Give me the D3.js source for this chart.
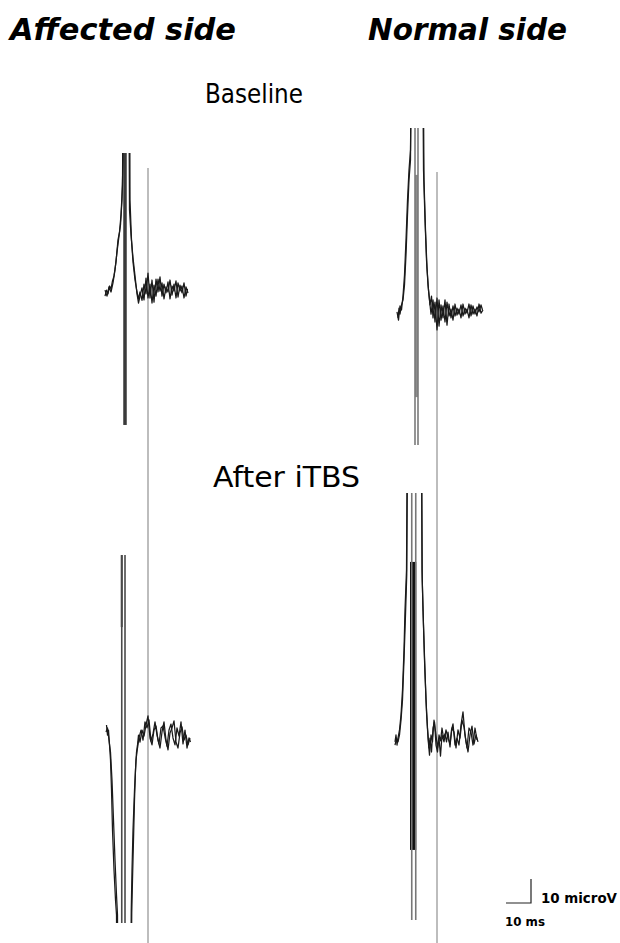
<!DOCTYPE html>
<html><head><meta charset="utf-8">
<script src="https://cdn.jsdelivr.net/npm/d3@7/dist/d3.min.js"></script>
<style>html,body{margin:0;padding:0;background:#fff}svg{display:block}</style>
</head><body>
<script>
// ---------- DATA (time in ms relative to stimulus, amplitude in microV) ----------
const columns = ["Affected side", "Normal side"];
const rows = ["Baseline", "After iTBS"];

// Affected side, Baseline: two superimposed sweeps [t, v]
const affBase1 = [[-8.0,-1.7],[-7.4,0.8],[-6.8,-0.8],[-6.2,2.5],[-5.6,1.3],[-5.0,4.6],[-4.4,6.7],[-3.6,12.5],[-2.8,21.7],[-2.2,25.0],[-1.6,32.1],[-1.0,44.6],[-0.6,120],[1.8,120],[2.0,38.3],[2.6,21.7],[3.2,12.5],[4.0,5.0],[4.8,0],[5.4,-2.9],
 [6.0,0],[6.8,-3.5],[7.6,3.3],[8.4,-0.8],[9.2,7.9],[10.0,-2.5],[10.8,5.0],[11.6,-4.2],[12.4,5.4],[13.2,0],[14.0,6.3],[14.8,-1.7],[15.6,3.3],[16.4,-0.4],[17.2,4.2],[18.0,-2.9],[18.8,2.5],[19.6,0.4],[20.4,4.6],[21.2,-2.1],[22.0,2.9],[22.8,-0.4],[23.6,3.8],[24.4,-1.7],[25.0,1.3]];
const affBase2 = [[-8.0,0.8],[-7.2,-1.7],[-6.4,2.1],[-5.6,0],[-4.8,3.8],[-4.0,9.2],[-3.2,16.7],[-2.4,23.3],[-1.8,27.9],[-1.2,38.3],[-0.8,55.0],[-0.5,120],[1.4,120],[1.8,34.2],[2.4,23.8],[3.2,14.2],[4.0,6.7],[4.8,-0.8],[5.4,-4.6],
 [6.0,-1.7],[6.8,1.7],[7.6,-3.3],[8.4,5.8],[9.2,-2.5],[10.0,3.3],[10.8,-4.6],[11.6,2.9],[12.4,-1.7],[13.2,5.4],[14.0,0.4],[14.8,3.8],[15.6,-2.9],[16.4,2.1],[17.2,0],[18.0,5.0],[18.8,-1.3],[19.6,3.3],[20.4,-2.5],[21.2,3.8],[22.0,0.4],[22.8,2.5],[23.6,-2.5],[24.4,2.1],[25.2,-0.4]];

// Normal side, Baseline
const normBase1 = [[-6.8,-3.3],[-6.4,0.8],[-6.0,-1.7],[-5.4,2.1],[-4.8,4.2],[-4.2,10.4],[-3.6,22.9],[-3.0,39.6],[-2.4,54.2],[-1.8,62.5],[-1.4,120],[3.0,120],[3.4,58.3],[4.0,37.5],[4.6,20.8],[5.2,10.4],[5.8,4.2],[6.4,-1.7],
 [7.2,4.2],[8.0,-5.0],[8.8,5.0],[9.6,-6.7],[10.4,2.1],[11.2,-3.3],[12.0,4.2],[12.8,-6.3],[13.6,2.5],[14.4,-3.3],[15.2,1.7],[16.0,-2.5],[16.8,0.8],[17.6,-1.7],[18.4,2.1],[19.2,-2.5],[20.0,0.8],[20.8,-1.3],[21.6,2.5],[22.4,-2.5],[23.2,1.7],[24.0,-1.7],[24.8,1.3],[25.6,-0.8],[26.4,2.1],[27.0,0]];
const normBase2 = [[-7.2,-0.8],[-6.6,-4.2],[-6.0,1.7],[-5.4,0],[-4.8,5.8],[-4.2,14.6],[-3.6,29.2],[-3.0,45.8],[-2.4,58.3],[-1.8,66.7],[-1.3,120],[3.2,120],[3.6,54.2],[4.2,33.3],[4.8,17.5],[5.4,8.3],[6.0,2.1],[6.6,5.8],
 [7.2,-3.3],[8.0,3.3],[8.8,-8.3],[9.6,4.2],[10.4,-4.2],[11.2,1.7],[12.0,-5.0],[12.8,3.3],[13.6,-2.5],[14.4,0.4],[15.2,-4.2],[16.0,2.5],[16.8,-2.1],[17.6,0.4],[18.4,-3.3],[19.2,2.5],[20.0,-1.7],[20.8,0.4],[21.6,-3.3],[22.4,2.1],[23.2,-1.7],[24.0,0.4],[24.8,-2.5],[25.6,2.5],[26.4,-1.3],[27.2,0]];

// Affected side, After iTBS
const affAfter1 = [[-7.4,5.0],[-7.0,0.8],[-6.6,2.9],[-6.2,-3.3],[-5.8,-9.6],[-5.4,-22.1],[-5.0,-38.8],[-4.4,-55.4],[-3.8,-67.9],[-3.4,-74.2],[-3.2,-120],[2.4,-120],[2.7,-73.3],[3.0,-59.6],[3.4,-42.9],[3.8,-26.3],[4.2,-13.8],[4.6,-6.3],[5.0,-3.3],[5.4,0.8],
 [6.0,-2.1],[6.8,2.9],[7.6,0.4],[8.4,5.0],[9.2,8.8],[10.0,-0.4],[10.8,-3.3],[11.6,2.9],[12.4,4.6],[13.2,-1.3],[14.0,-4.6],[14.8,2.1],[15.6,6.3],[16.4,-1.3],[17.2,-5.4],[18.0,1.7],[18.8,3.8],[19.6,6.7],[20.4,-2.1],[21.2,-4.6],[22.0,1.7],[22.8,4.2],[23.6,-1.3],[24.4,0.8],[25.2,-3.3],[26.0,-0.4]];
const affAfter2 = [[-7.6,2.1],[-7.0,3.8],[-6.4,-1.3],[-5.8,-6.3],[-5.2,-17.9],[-4.6,-34.6],[-4.0,-51.3],[-3.4,-65.8],[-3.0,-74.2],[-2.8,-120],[2.2,-120],[2.5,-72.1],[2.8,-55.4],[3.2,-38.8],[3.8,-22.1],[4.4,-9.6],[5.0,-4.6],[5.6,-0.4],
 [6.4,2.9],[7.2,-1.3],[8.0,6.3],[8.8,3.8],[9.6,7.1],[10.4,-1.7],[11.2,1.3],[12.0,6.3],[12.8,0.8],[13.6,-2.9],[14.4,3.8],[15.2,4.6],[16.0,0],[16.8,-3.8],[17.6,2.9],[18.4,5.4],[19.2,-0.4],[20.0,-3.3],[20.8,3.8],[21.6,0.4],[22.4,6.3],[23.2,-2.9],[24.0,2.9],[24.8,-4.6],[25.6,-0.4],[26.2,-2.1]];

// Normal side, After iTBS
const normAfter1 = [[-8.0,-0.8],[-7.6,2.1],[-7.2,-2.1],[-6.8,0.8],[-6.2,4.2],[-5.6,10.4],[-5.0,20.8],[-4.4,37.5],[-4.0,54.2],[-3.4,70.8],[-3.0,140],[2.6,140],[2.8,70.8],[3.2,54.2],[3.8,33.3],[4.4,16.7],[5.0,5.0],[5.6,-3.3],[6.0,0.8],[6.6,-5.0],
 [7.2,5.0],[7.8,7.5],[8.4,-2.1],[9.0,-5.0],[9.6,2.1],[10.2,-0.4],[10.8,5.0],[11.4,0.8],[12.0,2.5],[12.6,-0.8],[13.2,3.3],[14.0,-2.9],[14.6,4.2],[15.2,6.7],[16.0,-2.1],[16.8,0.8],[17.6,-2.1],[18.4,6.3],[19.2,11.7],[20.0,2.1],[20.8,-3.3],[21.6,5.0],[22.4,3.3],[23.2,-2.1],[24.0,5.0],[24.8,0]];
const normAfter2 = [[-8.0,-2.1],[-7.4,0.8],[-6.8,-0.8],[-6.2,2.1],[-5.6,8.3],[-5.0,16.7],[-4.4,33.3],[-3.8,52.1],[-3.3,68.8],[-2.9,140],[2.5,140],[2.9,66.7],[3.4,47.9],[4.0,28.3],[4.6,11.7],[5.2,0.8],[5.8,-6.3],[6.4,2.1],[7.0,-0.8],
 [7.6,8.3],[8.4,2.1],[9.0,-3.3],[9.6,0.8],[10.2,-6.7],[10.8,2.1],[11.6,-0.8],[12.4,4.2],[13.2,0.8],[14.0,-1.7],[14.8,5.0],[15.6,3.3],[16.4,-3.3],[17.2,4.2],[18.0,0.8],[18.8,8.3],[19.6,5.4],[20.4,-0.8],[21.2,-5.0],[22.0,2.1],[22.8,5.8],[23.6,-1.7],[24.4,2.1],[25.2,-0.8]];

// Display window of each panel [top, bottom] in microV (off-scale values are clipped)
const affBaseWindow = [57.9, -55.4];
const normBaseWindow = [75.8, -56.3];
const affAfterWindow = [75.8, -77.5];
const normAfterWindow = [102.9, -75.0];

// Stimulus artifact: full-height lines (t in ms) and saturated bands [t1, t2, vTop, vBottom]
const affBaseLines = [];
const affBaseBands = [[-0.7, 0.7, 57.9, -55.4]];
const normBaseLines = [0, 1.2];
const normBaseBands = [[0, 1.2, 56.3, -36.3]];
const affAfterLines = [-1.3, 0];
const affAfterBands = [[-1.7, -0.9, 75.8, 45.8]];
const normAfterLines = [-1.3, 0.3];
const normAfterBands = [[-2.0, 0.5, 74.2, -45.8]];

// Latency markers (ms) per column
const latency = [9.2, 8.8];

// Calibration bar
const calTime = 10;   // ms
const calAmp = 10;    // microV
const calLabels = ["10 microV", "10 ms"];

// ---------- LAYOUT ----------
const W = 620, H = 943;
const pxPerMs = 2.5, pxPerUv = 2.4;
const colZero = [125, 415];          // x pixel of t = 0
const rowZero = [[292, 310], [737, 740]]; // y pixel of v = 0 [row][col]

const svg = d3.select("body").append("svg").attr("width", W).attr("height", H);
svg.append("rect").attr("width", W).attr("height", H).attr("fill", "#fff");

const xScale = c => d3.scaleLinear().domain([0, 1]).range([colZero[c], colZero[c] + pxPerMs]);
const yScale = (r, c) => d3.scaleLinear().domain([0, 1]).range([rowZero[r][c], rowZero[r][c] - pxPerUv]);

// Headers
svg.append("text").attr("x", 10).attr("y", 40).text(columns[0])
  .attr("font-family", "DejaVu Sans").attr("font-weight", "bold").attr("font-style", "italic")
  .attr("font-size", 30).attr("textLength", 226).attr("lengthAdjust", "spacingAndGlyphs");
svg.append("text").attr("x", 368).attr("y", 40).text(columns[1])
  .attr("font-family", "DejaVu Sans").attr("font-weight", "bold").attr("font-style", "italic")
  .attr("font-size", 30).attr("textLength", 199).attr("lengthAdjust", "spacingAndGlyphs");
svg.append("text").attr("x", 205).attr("y", 103).text(rows[0])
  .attr("font-family", "DejaVu Sans").attr("font-size", 27)
  .attr("textLength", 98).attr("lengthAdjust", "spacingAndGlyphs");
svg.append("text").attr("x", 213).attr("y", 487).text(rows[1])
  .attr("font-family", "DejaVu Sans").attr("font-size", 28)
  .attr("textLength", 147).attr("lengthAdjust", "spacingAndGlyphs");

// Latency markers
const latTop = [168, 172];
latency.forEach((t, c) => {
  const x = xScale(c)(t);
  svg.append("line").attr("x1", x).attr("x2", x).attr("y1", latTop[c]).attr("y2", H)
    .attr("stroke", "#9a9a9a").attr("stroke-width", 1.3);
});

const panels = [
  {r:0, c:0, win:affBaseWindow, traces:[affBase1, affBase2], lines:affBaseLines, bands:affBaseBands, lineColor:"#555", bandColor:"#3a3a3a"},
  {r:0, c:1, win:normBaseWindow, traces:[normBase1, normBase2], lines:normBaseLines, bands:normBaseBands, lineColor:"#7a7a7a", bandColor:"#8c8c8c"},
  {r:1, c:0, win:affAfterWindow, traces:[affAfter1, affAfter2], lines:affAfterLines, bands:affAfterBands, lineColor:"#4a4a4a", bandColor:"#444"},
  {r:1, c:1, win:normAfterWindow, traces:[normAfter1, normAfter2], lines:normAfterLines, bands:normAfterBands, lineColor:"#777", bandColor:"#111"},
];

const defs = svg.append("defs");
panels.forEach((p, i) => {
  const x = xScale(p.c), y = yScale(p.r, p.c);
  const top = y(p.win[0]), bot = y(p.win[1]);
  defs.append("clipPath").attr("id", "clip" + i)
    .append("rect").attr("x", 0).attr("y", top).attr("width", W).attr("height", bot - top);
  const g = svg.append("g").attr("clip-path", `url(#clip${i})`);

  g.selectAll("rect.band").data(p.bands).join("rect").attr("class", "band")
    .attr("x", d => x(d[0])).attr("width", d => x(d[1]) - x(d[0]))
    .attr("y", d => y(d[2])).attr("height", d => y(d[3]) - y(d[2]))
    .attr("fill", p.bandColor);
  g.selectAll("line.art").data(p.lines).join("line").attr("class", "art")
    .attr("x1", d => x(d)).attr("x2", d => x(d))
    .attr("y1", top).attr("y2", bot)
    .attr("stroke", p.lineColor).attr("stroke-width", 1.6);

  const line = d3.line().x(d => x(d[0])).y(d => y(d[1])).curve(d3.curveLinear);
  g.selectAll("path.trace").data(p.traces).join("path").attr("class", "trace")
    .attr("d", line).attr("fill", "none").attr("stroke", "#1a1a1a")
    .attr("stroke-width", 1.25).attr("stroke-linejoin", "round");
});

// Calibration bar
const calX = d3.scaleLinear().domain([0, calTime]).range([506, 506 + calTime * pxPerMs]);
const calY = d3.scaleLinear().domain([0, calAmp]).range([903, 903 - calAmp * pxPerUv]);
svg.append("path")
  .attr("d", `M${calX(0)},${calY(0)}H${calX(calTime)}V${calY(calAmp)}`)
  .attr("fill", "none").attr("stroke", "#222").attr("stroke-width", 1.2);
svg.append("text").attr("x", 541).attr("y", 903).text(calLabels[0])
  .attr("font-family", "DejaVu Sans").attr("font-weight", "bold").attr("font-size", 14)
  .attr("textLength", 76).attr("lengthAdjust", "spacingAndGlyphs");
svg.append("text").attr("x", 505).attr("y", 926).text(calLabels[1])
  .attr("font-family", "DejaVu Sans").attr("font-weight", "bold").attr("font-size", 13)
  .attr("textLength", 40).attr("lengthAdjust", "spacingAndGlyphs");
</script>
</body></html>
